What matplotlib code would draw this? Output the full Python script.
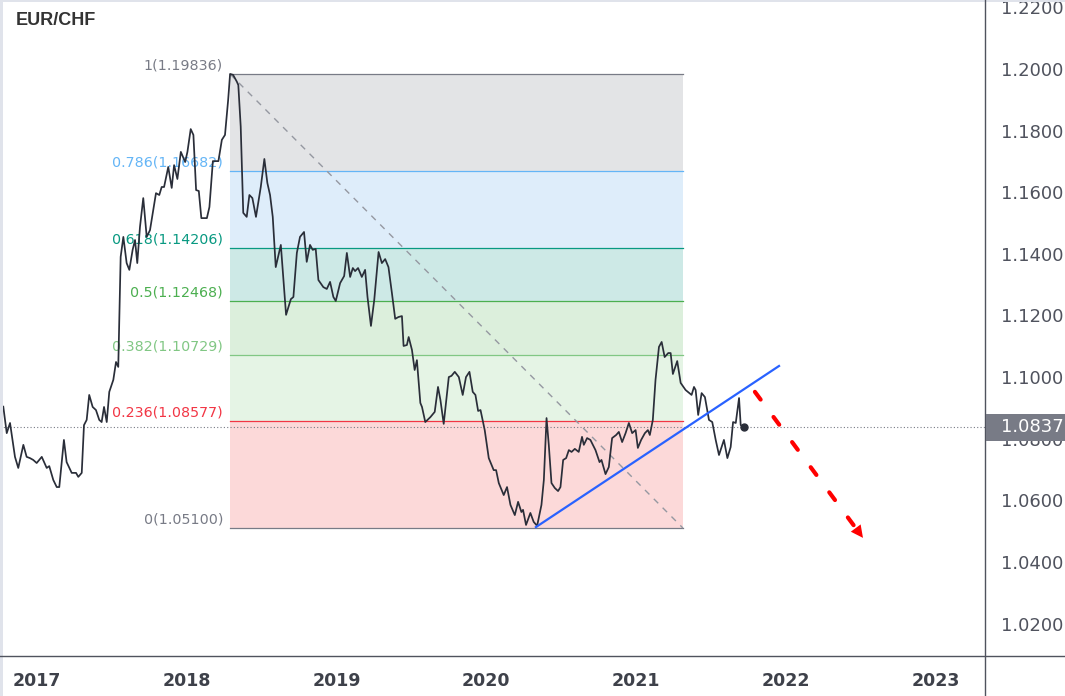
import matplotlib
matplotlib.use('Agg')
import matplotlib.pyplot as plt
from matplotlib.lines import Line2D
from matplotlib.patches import Rectangle
from matplotlib import transforms

# ---------------- data ----------------
years = [
    2016.773, 2016.796, 2016.818, 2016.851, 2016.873, 2016.907, 2016.929, 2016.951, 2016.973, 2016.996,
    2017.030, 2017.063, 2017.080, 2017.107, 2017.130, 2017.147, 2017.178, 2017.196, 2017.230, 2017.259,
    2017.274, 2017.297, 2017.312, 2017.330, 2017.347, 2017.370, 2017.392, 2017.414, 2017.430, 2017.446,
    2017.464, 2017.481, 2017.508, 2017.526, 2017.541, 2017.557, 2017.575, 2017.597, 2017.615, 2017.637,
    2017.653, 2017.668, 2017.686, 2017.708, 2017.731, 2017.753, 2017.775, 2017.793, 2017.815, 2017.831,
    2017.847, 2017.875, 2017.898, 2017.914, 2017.936, 2017.959, 2017.988, 2018.003, 2018.025, 2018.043,
    2018.061, 2018.079, 2018.096, 2018.133, 2018.150, 2018.173, 2018.210, 2018.233, 2018.254, 2018.275,
    2018.288, 2018.308, 2018.333, 2018.343, 2018.359, 2018.376, 2018.399, 2018.417, 2018.437, 2018.461,
    2018.493, 2018.517, 2018.537, 2018.555, 2018.573, 2018.593, 2018.627, 2018.662, 2018.694, 2018.711,
    2018.734, 2018.755, 2018.782, 2018.800, 2018.822, 2018.840, 2018.860, 2018.878, 2018.911, 2018.934,
    2018.956, 2018.978, 2018.994, 2019.023, 2019.050, 2019.068, 2019.090, 2019.108, 2019.123, 2019.143,
    2019.168, 2019.190, 2019.206, 2019.229, 2019.251, 2019.280, 2019.302, 2019.324, 2019.346, 2019.369,
    2019.391, 2019.413, 2019.436, 2019.447, 2019.469, 2019.481, 2019.503, 2019.521, 2019.536, 2019.559,
    2019.570, 2019.592, 2019.626, 2019.655, 2019.677, 2019.693, 2019.715, 2019.737, 2019.749, 2019.767,
    2019.789, 2019.816, 2019.842, 2019.864, 2019.887, 2019.909, 2019.927, 2019.945, 2019.961, 2019.989,
    2020.016, 2020.049, 2020.065, 2020.083, 2020.116, 2020.138, 2020.161, 2020.190, 2020.212, 2020.234,
    2020.245, 2020.265, 2020.294, 2020.316, 2020.339, 2020.368, 2020.384, 2020.402, 2020.417, 2020.435,
    2020.457, 2020.479, 2020.495, 2020.513, 2020.533, 2020.551, 2020.569, 2020.591, 2020.617, 2020.639,
    2020.651, 2020.673, 2020.695, 2020.729, 2020.756, 2020.769, 2020.796, 2020.818, 2020.840, 2020.867,
    2020.885, 2020.907, 2020.930, 2020.952, 2020.974, 2020.997, 2021.012, 2021.034, 2021.059, 2021.079,
    2021.092, 2021.112, 2021.130, 2021.153, 2021.171, 2021.191, 2021.215, 2021.231, 2021.246, 2021.275,
    2021.298, 2021.331, 2021.371, 2021.387, 2021.398, 2021.415, 2021.438, 2021.460, 2021.487, 2021.509,
    2021.532, 2021.554, 2021.587, 2021.610, 2021.632, 2021.648, 2021.666, 2021.688, 2021.699, 2021.721,
]
prices = [
    1.0904, 1.0818, 1.0851, 1.0741, 1.0705, 1.0780, 1.0741, 1.0737, 1.0731, 1.0721,
    1.0741, 1.0705, 1.0711, 1.0666, 1.0643, 1.0643, 1.0796, 1.0724, 1.0689, 1.0689,
    1.0676, 1.0689, 1.0844, 1.0861, 1.0942, 1.0903, 1.0893, 1.0861, 1.0854, 1.0903,
    1.0854, 1.0952, 1.0991, 1.1049, 1.1033, 1.1390, 1.1455, 1.1370, 1.1348, 1.1413,
    1.1445, 1.1370, 1.1487, 1.1581, 1.1455, 1.1477, 1.1542, 1.1597, 1.1591, 1.1617,
    1.1617, 1.1682, 1.1614, 1.1688, 1.1643, 1.1731, 1.1698, 1.1731, 1.1805, 1.1786,
    1.1607, 1.1604, 1.1516, 1.1516, 1.1552, 1.1701, 1.1701, 1.1770, 1.1786, 1.1899,
    1.1984, 1.1981, 1.1959, 1.1948, 1.1813, 1.1533, 1.1520, 1.1591, 1.1581, 1.1520,
    1.1617, 1.1708, 1.1630, 1.1591, 1.1520, 1.1357, 1.1429, 1.1202, 1.1253, 1.1260,
    1.1403, 1.1455, 1.1471, 1.1374, 1.1429, 1.1413, 1.1416, 1.1315, 1.1292, 1.1286,
    1.1309, 1.1260, 1.1247, 1.1305, 1.1328, 1.1403, 1.1325, 1.1354, 1.1344, 1.1354,
    1.1325, 1.1348, 1.1260, 1.1166, 1.1250, 1.1406, 1.1370, 1.1383, 1.1357, 1.1273,
    1.1189, 1.1195, 1.1198, 1.1101, 1.1104, 1.1130, 1.1088, 1.1023, 1.1055, 1.0916,
    1.0903, 1.0854, 1.0870, 1.0887, 1.0968, 1.0926, 1.0848, 1.0948, 1.1000, 1.1004,
    1.1017, 1.1000, 1.0942, 1.1000, 1.1017, 1.0952, 1.0942, 1.0890, 1.0893, 1.0828,
    1.0737, 1.0698, 1.0698, 1.0656, 1.0617, 1.0643, 1.0585, 1.0552, 1.0595, 1.0562,
    1.0569, 1.0520, 1.0559, 1.0530, 1.0517, 1.0585, 1.0666, 1.0867, 1.0780, 1.0656,
    1.0640, 1.0630, 1.0643, 1.0731, 1.0737, 1.0763, 1.0757, 1.0767, 1.0757, 1.0806,
    1.0780, 1.0802, 1.0796, 1.0763, 1.0724, 1.0731, 1.0685, 1.0708, 1.0802, 1.0812,
    1.0822, 1.0789, 1.0818, 1.0851, 1.0818, 1.0828, 1.0770, 1.0796, 1.0818, 1.0828,
    1.0812, 1.0861, 1.0991, 1.1098, 1.1114, 1.1065, 1.1078, 1.1078, 1.1010, 1.1052,
    1.0981, 1.0958, 1.0942, 1.0968, 1.0958, 1.0877, 1.0948, 1.0935, 1.0861, 1.0854,
    1.0796, 1.0747, 1.0796, 1.0737, 1.0773, 1.0854, 1.0851, 1.0932, 1.0844, 1.0837,
]

title = "EUR/CHF"
last_price = 1.0837

fib_ratio_labels = ["1", "0.786", "0.618", "0.5", "0.382", "0.236", "0"]
fib_prices = [1.19836, 1.16682, 1.14206, 1.12468, 1.10729, 1.08577, 1.05100]
fib_start = 2018.288
fib_end = 2021.313

trend_start = (2020.331, 1.0513)
trend_end = (2021.955, 1.1036)
arrow_start = (2021.794, 1.0952)
arrow_end = (2022.516, 1.0478)

year_ticks = [2017, 2018, 2019, 2020, 2021, 2022, 2023]
price_ticks = [1.02, 1.04, 1.06, 1.08, 1.10, 1.12, 1.14, 1.16, 1.18, 1.20, 1.22]

# ---------------- styles ----------------
level_colors = ['#787b86', '#64b5f6', '#089981', '#4caf50', '#81c784', '#f23645', '#787b86']
band_colors = ['#e3e4e6', '#deedfa', '#cde9e6', '#dcefdc', '#e5f4e5', '#fcd9d9']

W, H = 1065, 696
fig = plt.figure(figsize=(W / 100, H / 100), dpi=100)
fig.patch.set_facecolor('white')
ax = fig.add_axes([0, 40 / H, 985 / W, 656 / H])
ax.set_xlim(2016.751, 2023.331)
ax.set_ylim(1.00946, 1.2224)
for s in ax.spines.values():
    s.set_visible(False)

# fib bands and levels
for i in range(len(band_colors)):
    ax.fill_between([fib_start, fib_end], fib_prices[i + 1], fib_prices[i],
                    color=band_colors[i], lw=0, zorder=1)
for lab, p, c in zip(fib_ratio_labels, fib_prices, level_colors):
    ax.plot([fib_start, fib_end], [p, p], color=c, lw=0.9, zorder=2)
    ax.annotate(f"{lab}({p:.5f})", xy=(fib_start, p), xytext=(-5, 3.2),
                textcoords='offset points', ha='right', va='baseline',
                color=c, fontsize=10.3, family='DejaVu Sans', zorder=3)

# diagonal dashed fib trend
ax.plot([fib_start, fib_end], [fib_prices[0], fib_prices[-1]], color='#9598a1',
        lw=1.0, dashes=(4.5, 4.5), zorder=2)

# last price dotted line
ax.axhline(last_price, color='#787b86', lw=0.8, ls=(0, (1, 2)), zorder=2)

# price line
ax.plot(years, prices, color='#2a2e39', lw=1.25, zorder=4, solid_joinstyle='round')
ax.plot([years[-1]], [prices[-1]], 'o', color='#2a2e39', ms=5, zorder=5)

# blue trend line
ax.plot([trend_start[0], trend_end[0]], [trend_start[1], trend_end[1]],
        color='#2962ff', lw=1.6, zorder=4)

# red dashed arrow
frac = 0.93
hx = arrow_start[0] + (arrow_end[0] - arrow_start[0]) * frac
hy = arrow_start[1] + (arrow_end[1] - arrow_start[1]) * frac
ax.plot([arrow_start[0], hx], [arrow_start[1], hy], color='#ff0000', lw=3.0,
        dashes=(2.3, 5.2), dash_capstyle='round', zorder=4)
ax.annotate('', xy=arrow_end, xytext=(hx, hy),
            arrowprops=dict(arrowstyle='-|>,head_length=0.8,head_width=0.4',
                            color='#ff0000', lw=0, shrinkA=0, shrinkB=0,
                            mutation_scale=11), zorder=4)

# axes ticks
ax.yaxis.tick_right()
ax.set_yticks(price_ticks)
ax.set_yticklabels([f"{v:.4f}" for v in price_ticks])
ax.tick_params(axis='y', length=0, pad=11.5, labelsize=13, labelcolor='#50535e')
ax.set_xticks(year_ticks)
ax.set_xticklabels([str(y) for y in year_ticks], fontweight='bold')
ax.tick_params(axis='x', length=0, pad=11.5, labelsize=12.5, labelcolor='#3e414a')

# title
ax.text(16 / 985, 1 - 25 / 656, title, transform=ax.transAxes, fontsize=13,
        fontweight='bold', family='Liberation Sans', color='#333333',
        ha='left', va='baseline', zorder=6)

# frame lines extending across figure
fig.add_artist(Line2D([0, 1], [40 / H, 40 / H], transform=fig.transFigure,
                      color='#50535e', lw=1.0))
fig.add_artist(Line2D([985 / W, 985 / W], [0, 1], transform=fig.transFigure,
                      color='#50535e', lw=1.0))
fig.add_artist(Rectangle((0, 0), 3 / W, 1, transform=fig.transFigure,
                         color='#e0e3eb', lw=0))
fig.add_artist(Rectangle((0, 1 - 2 / H), 1, 2 / H, transform=fig.transFigure,
                         color='#e0e3eb', lw=0))

# last price box on the axis
bt = transforms.blended_transform_factory(fig.transFigure, ax.transData)
box_h = 0.0087
fig.add_artist(Rectangle((985.5 / W, last_price - box_h / 2), (W - 985.5) / W, box_h,
                         transform=bt, color='#787b86', lw=0, zorder=5))
fig.add_artist(plt.Text(1001 / W, last_price, f"{last_price:.4f}", transform=bt,
                        color='white', fontsize=13, ha='left', va='center', zorder=6))

fig.savefig('out.png', dpi=100, facecolor='white')
